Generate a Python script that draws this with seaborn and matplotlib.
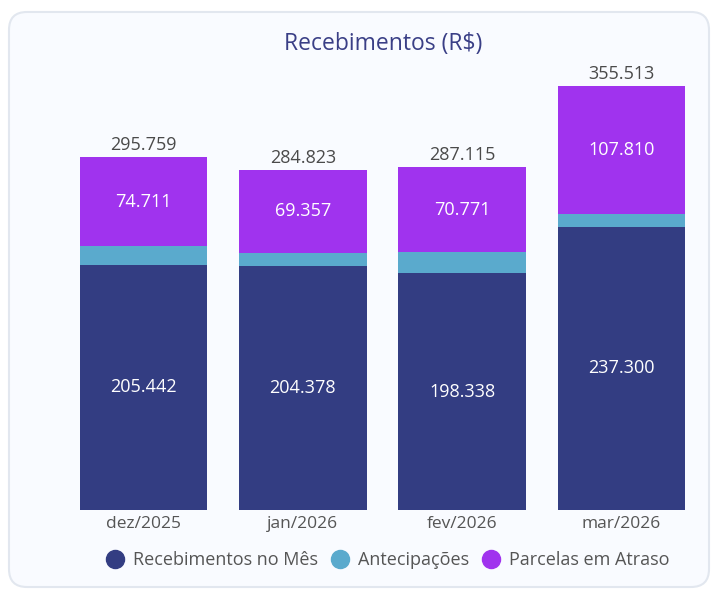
import matplotlib
matplotlib.use("Agg")
import matplotlib.pyplot as plt
from matplotlib.patches import FancyBboxPatch
from matplotlib.lines import Line2D
import seaborn as sns
import pandas as pd

meses = ["dez/2025", "jan/2026", "fev/2026", "mar/2026"]
recebimentos_mes = [205442, 204378, 198338, 237300]
antecipacoes = [15606, 11088, 18006, 10403]
parcelas_atraso = [74711, 69357, 70771, 107810]
totais = [295759, 284823, 287115, 355513]

c_rec = "#333d82"
c_ant = "#5aaacd"
c_par = "#a033ee"

sns.set_theme(style="white")
plt.rcParams["font.family"] = ["Open Sans", "DejaVu Sans"]

df = pd.DataFrame({
    "mes": meses,
    "rec": recebimentos_mes,
    "ant": antecipacoes,
    "par": parcelas_atraso,
})
df["lvl2"] = df["rec"] + df["ant"]
df["lvl3"] = df["lvl2"] + df["par"]

fig = plt.figure(figsize=(7.16, 5.91), dpi=100)
fig.patch.set_facecolor("white")
card = FancyBboxPatch((9/716, 4/591), 700/716, 575/591,
                      boxstyle="round,pad=0,rounding_size=0.025",
                      transform=fig.transFigure, facecolor="#f9fbff",
                      edgecolor="#e2e7ef", linewidth=1.5, mutation_aspect=716/591,
                      zorder=-10)
fig.patches.append(card)

W, H = 716, 591
ax = fig.add_axes([64/W, (H-510)/H, (701-64)/W, (510-60)/H])
ax.set_facecolor("none")
ax.patch.set_alpha(0)

sns.barplot(data=df, x="mes", y="lvl3", color=c_par, width=0.8, linewidth=0, saturation=1, ax=ax)
sns.barplot(data=df, x="mes", y="lvl2", color=c_ant, width=0.8, linewidth=0, saturation=1, ax=ax)
sns.barplot(data=df, x="mes", y="rec", color=c_rec, width=0.8, linewidth=0, saturation=1, ax=ax)

scale_top = 295759 * 450 / 353
ax.set_ylim(0, scale_top)
ax.set_xlim(-0.5, 3.5)

def fmt(v):
    return f"{v:,}".replace(",", ".")

for i in range(len(meses)):
    r = recebimentos_mes[i]
    a = antecipacoes[i]
    p = parcelas_atraso[i]
    t = totais[i]
    ax.text(i, r / 2, fmt(r), ha="center", va="center", color="white", fontsize=13)
    ax.text(i, r + a + p / 2, fmt(p), ha="center", va="center", color="white", fontsize=13)
    ax.text(i, t + 2500, fmt(t), ha="center", va="bottom", color="#4a4a4a", fontsize=13)

ax.set_xlabel("")
ax.set_ylabel("")
ax.set_yticks([])
ax.tick_params(axis="x", length=0, pad=4, labelsize=12.5, labelcolor="#555555")
for s in ax.spines.values():
    s.set_visible(False)

fig.text(383/W, 1 - 44/H, "Recebimentos (R$)", ha="center", va="center",
         fontsize=16.5, color="#3a3f86")

handles = [Line2D([0], [0], marker="o", linestyle="", markersize=13, markerfacecolor=c, markeredgecolor=c)
           for c in (c_rec, c_ant, c_par)]
fig.legend(handles, ["Recebimentos no Mês", "Antecipações", "Parcelas em Atraso"],
           loc="center", bbox_to_anchor=(383/W, 1 - 560/H), ncol=3, frameon=False,
           fontsize=13, handletextpad=0.0, columnspacing=0.2, labelcolor="#555555")

fig.savefig("out.png", dpi=100)
